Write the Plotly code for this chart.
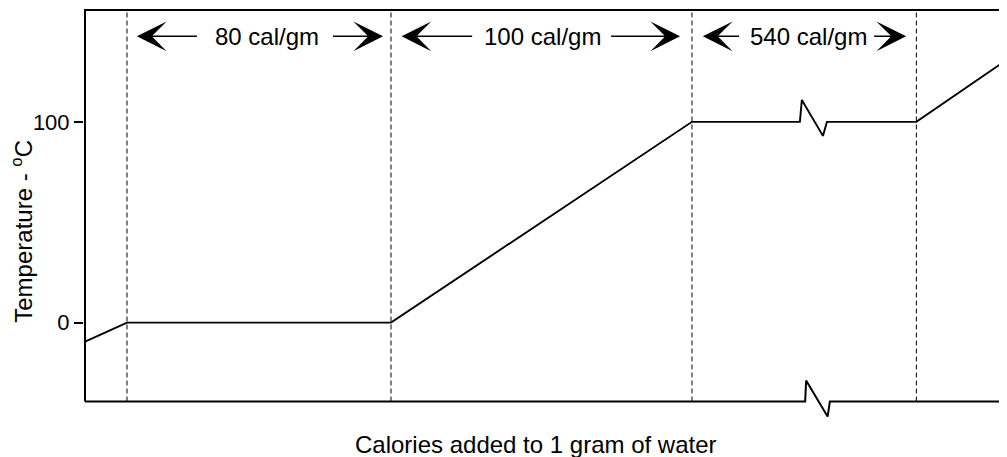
import plotly.graph_objects as go

# Schematic heating curve of 1 g of water (x: calories added, schematic scale)
calories = [-12.7, 0, 80, 171.2, 203.9, 204.5, 210.9, 212.1, 239.2, 266.7]
temperature = [-9.5, 0, 0, 100, 100, 110.9, 93.0, 100, 100, 131.0]

# bottom axis with break mark
axis_x = [-12.73, 205.5, 205.8, 212.3, 213.0, 266.7]
axis_y = [-39.3, -39.3, -28.9, -46.8, -39.3, -39.3]

phase_bounds = [0, 80, 171.2, 239.2]
y_top, y_bottom = 155.7, -39.3
frame_left = -12.73

label_texts = ["80 cal/gm", "100 cal/gm", "540 cal/gm"]
label_x = [42.3, 125.9, 206.5]
arrow_left = [(3.0, 22.1), (83.2, 105.5), (174.5, 186.4)]    # (tip, tail)
arrow_right = [(77.6, 61.5), (167.6, 145.8), (236.1, 225.5)]  # (tip, tail)
label_y = 142.6

tick_vals = [0, 100]
tick_text = ["0", "100"]

FONT = "Liberation Sans, Arial, sans-serif"

fig = go.Figure()

# frame: left and top
fig.add_trace(go.Scatter(x=[frame_left, frame_left, 266.7], y=[y_bottom, y_top, y_top],
                         mode="lines", line=dict(color="black", width=2),
                         hoverinfo="skip", showlegend=False))
# bottom axis with break
fig.add_trace(go.Scatter(x=axis_x, y=axis_y, mode="lines",
                         line=dict(color="black", width=2),
                         hoverinfo="skip", showlegend=False))
# dashed phase boundaries
for xb in phase_bounds:
    fig.add_trace(go.Scatter(x=[xb, xb], y=[y_bottom, y_top], mode="lines",
                             line=dict(color="black", width=1, dash="5px,3px"),
                             hoverinfo="skip", showlegend=False))
# heating curve
fig.add_trace(go.Scatter(x=calories, y=temperature, mode="lines",
                         line=dict(color="black", width=1.9),
                         hoverinfo="skip", showlegend=False))

annotations = []
for t, lx in zip(label_texts, label_x):
    annotations.append(dict(x=lx, y=label_y, xref="x", yref="y", text=t,
                            showarrow=False, font=dict(family=FONT, size=24, color="black"),
                            xanchor="center", yanchor="middle"))
for (tip, tail) in arrow_left + arrow_right:
    annotations.append(dict(x=tip, y=label_y, ax=tail, ay=label_y, xref="x", yref="y",
                            axref="x", ayref="y", text=" ", showarrow=True,
                            arrowhead=3, arrowsize=3.3, arrowwidth=1.5, arrowcolor="black",
                            standoff=0))

# page has an 8px body margin: figure is sized to fit the window
W, H = 999, 449
l, r, t, b = 76, 0, 0, 35.5
pw, ph = W - l - r, H - t - b
annotations.append(dict(x=(14.5 - l) / pw, y=(H - b - 223.5) / ph, xref="paper", yref="paper",
                        text="Temperature - <sup>o</sup>C", textangle=-90, showarrow=False,
                        font=dict(family=FONT, size=24, color="black"),
                        xanchor="center", yanchor="middle"))
annotations.append(dict(x=(527.5 - l) / pw, y=(H - b - 437) / ph, xref="paper", yref="paper",
                        text="Calories added to 1 gram of water", showarrow=False,
                        font=dict(family=FONT, size=24, color="black"),
                        xanchor="center", yanchor="middle"))

x0 = (l - 119) / 3.3
y1 = 156.7
fig.update_layout(
    width=W, height=H,
    margin=dict(l=l, r=r, t=t, b=b, pad=0),
    plot_bgcolor="white", paper_bgcolor="white",
    xaxis=dict(range=[x0, x0 + pw / 3.3], showgrid=False, zeroline=False,
               showticklabels=False, ticks="", showline=False, fixedrange=True),
    yaxis=dict(range=[y1 - ph / 2.01, y1], showgrid=False, zeroline=False,
               tickvals=tick_vals, ticktext=tick_text, ticks="outside", ticklen=9,
               tickwidth=1.5, tickcolor="black", showline=False,
               tickfont=dict(family=FONT, size=22, color="black"), fixedrange=True),
    annotations=annotations,
    showlegend=False,
)

fig.write_html("out.html")
